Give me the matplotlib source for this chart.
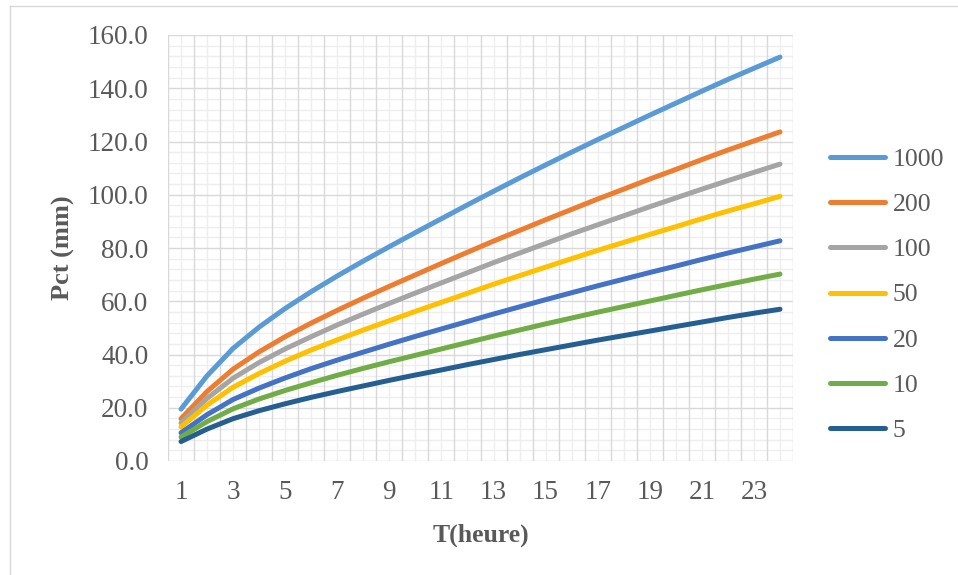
import matplotlib
matplotlib.use("Agg")
import matplotlib.pyplot as plt
from matplotlib.ticker import FixedLocator, FormatStrFormatter
from matplotlib.lines import Line2D

# Durations (hours) and rainfall depth per return period (mm)
hours = list(range(1, 25))
return_periods = ["1000", "200", "100", "50", "20", "10", "5"]

p1000 = [19.5, 32.0, 42.3, 50.3, 57.3, 63.6, 69.5, 75.1, 80.5, 85.8, 91.0, 96.2,
         101.3, 106.3, 111.2, 116.0, 120.7, 125.3, 129.9, 134.4, 138.9, 143.3, 147.5, 151.7]
p200 = [15.9, 26.1, 34.5, 41.0, 46.7, 51.8, 56.6, 61.2, 65.6, 69.9, 74.2, 78.4,
        82.6, 86.6, 90.6, 94.5, 98.4, 102.1, 105.9, 109.5, 113.2, 116.8, 120.2, 123.6]
p100 = [14.3, 23.5, 31.1, 37.0, 42.1, 46.7, 51.1, 55.2, 59.2, 63.1, 66.9, 70.7,
        74.5, 78.1, 81.7, 85.3, 88.7, 92.1, 95.5, 98.8, 102.1, 105.3, 108.4, 111.5]
p50 = [12.8, 21.0, 27.7, 32.9, 37.5, 41.7, 45.5, 49.2, 52.7, 56.2, 59.6, 63.0,
       66.4, 69.6, 72.8, 76.0, 79.1, 82.1, 85.1, 88.0, 91.0, 93.9, 96.6, 99.4]
p20 = [10.6, 17.4, 23.1, 27.4, 31.2, 34.7, 37.9, 40.9, 43.9, 46.8, 49.6, 52.4,
       55.2, 57.9, 60.6, 63.2, 65.8, 68.3, 70.8, 73.2, 75.7, 78.1, 80.4, 82.7]
p10 = [9.0, 14.8, 19.6, 23.3, 26.5, 29.4, 32.2, 34.8, 37.3, 39.7, 42.1, 44.5,
       46.9, 49.2, 51.5, 53.7, 55.9, 58.0, 60.1, 62.2, 64.3, 66.3, 68.3, 70.2]
p5 = [7.3, 12.0, 15.9, 18.9, 21.5, 23.9, 26.1, 28.2, 30.3, 32.3, 34.2, 36.2,
      38.1, 40.0, 41.8, 43.6, 45.4, 47.1, 48.8, 50.5, 52.2, 53.9, 55.5, 57.0]

series = [p1000, p200, p100, p50, p20, p10, p5]
colors = ["#5B9BD5", "#ED7D31", "#A5A5A5", "#FFC000", "#4472C4", "#70AD47", "#255E91"]

x_tick_labels = [str(h) for h in hours if h % 2 == 1]
y_ticks = list(range(0, 161, 20))

plt.rcParams["font.family"] = ["Liberation Serif", "DejaVu Serif"]
text_color = "#595959"

W, H = 958, 575
fig = plt.figure(figsize=(W / 100, H / 100), dpi=100)
fig.patch.set_facecolor("white")

# outer chart-area border (left and top edges)
fig.add_artist(Line2D([9.5 / W, 9.5 / W], [0, 1 - 5.5 / H], transform=fig.transFigure,
                      color="#D9D9D9", lw=1.0))
fig.add_artist(Line2D([9.5 / W, 1], [1 - 5.5 / H, 1 - 5.5 / H], transform=fig.transFigure,
                      color="#D9D9D9", lw=1.0))

left, right, top, bottom = 168, 793, 35, 461
ax = fig.add_axes([left / W, 1 - bottom / H, (right - left) / W, (bottom - top) / H])
ax.set_xlim(0.5, len(hours) + 0.5)
ax.set_ylim(0, 160)

# gridlines: minor first, then major
for h in hours:
    ax.axvline(h, color="#EEEEEE", lw=1.0, zorder=0)
for yv in range(0, 161, 4):
    if yv % 20:
        ax.axhline(yv, color="#EEEEEE", lw=1.0, zorder=0)
for b in range(len(hours) + 1):
    ax.axvline(b + 0.5, color="#D9D9D9", lw=1.0, zorder=1)
for yv in y_ticks:
    ax.axhline(yv, color="#D9D9D9", lw=1.0, zorder=1)

for vals, lab, col in zip(series, return_periods, colors):
    ax.plot(hours, vals, color=col, lw=3.6, solid_capstyle="round",
            solid_joinstyle="round", label=lab, zorder=3)

for s in ax.spines.values():
    s.set_visible(False)

ax.xaxis.set_major_locator(FixedLocator([int(t) for t in x_tick_labels]))
ax.set_xticklabels(x_tick_labels)
ax.yaxis.set_major_locator(FixedLocator(y_ticks))
ax.yaxis.set_major_formatter(FormatStrFormatter("%.1f"))
ax.tick_params(axis="both", length=0, labelsize=19.5, labelcolor=text_color)
ax.tick_params(axis="y", pad=14)
ax.tick_params(axis="x", pad=14)

ax.set_xlabel("T(heure)", fontsize=18.5, fontweight="bold", color=text_color, va="center")
ax.xaxis.set_label_coords(0.5, -0.174)
ax.set_ylabel("Pct (mm)", fontsize=19, fontweight="bold", color=text_color, va="center")
ax.yaxis.set_label_coords(-0.168, 0.5)

handles, labels = ax.get_legend_handles_labels()
leg = fig.legend(handles, labels, loc="center left", bbox_to_anchor=(830 / W, 1 - 295 / H),
                 frameon=False, fontsize=18.5, handlelength=2.15, handletextpad=0.3,
                 labelspacing=0.86, borderpad=0, borderaxespad=0)
for t in leg.get_texts():
    t.set_color(text_color)

fig.savefig("out.png", dpi=100, facecolor="white")
